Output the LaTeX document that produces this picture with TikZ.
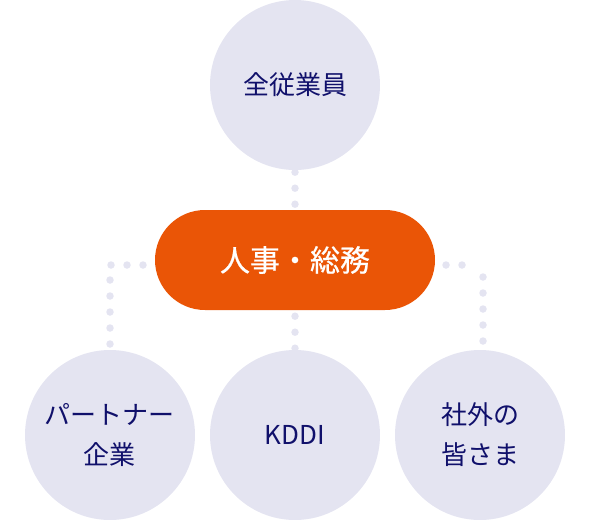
\documentclass[tikz,border=0pt]{standalone}
\usepackage{fontspec}
\setmainfont{Noto Sans CJK JP}
\newfontfamily\pillfont[FakeBold=0.6]{Noto Sans CJK JP}
\usetikzlibrary{shapes.misc,backgrounds}
\definecolor{lav}{HTML}{E4E4F1}
\definecolor{hrorange}{HTML}{EA5506}
\definecolor{navy}{HTML}{10106B}
\tikzset{
  bubble/.style={circle,fill=lav,draw=none,minimum size=170pt,inner sep=0pt,
    text=navy,align=center,font=\fontsize{26}{40}\selectfont},
  pillbox/.style={rounded rectangle,fill=hrorange,draw=none,minimum width=280pt,
    minimum height=100pt,inner sep=0pt,text=white,font=\pillfont\fontsize{30}{36}\selectfont},
  dots/.style={draw=lav,line width=7.5pt,line cap=round,dash pattern=on 0pt off 16pt}
}
\begin{document}
\begin{tikzpicture}[x=1pt,y=-1pt]
\useasboundingbox (0,0) rectangle (590,520);
\node[bubble] (top) at (295,85) {全従業員};
\node[pillbox] (pill) at (295,260) {人事・総務};
\node[bubble] (left) at (110,435) {パートナー\\企業};
\node[bubble] (mid) at (295,435) {KDDI};
\node[bubble] (right) at (480,435) {社外の\\皆さま};
\coordinate (lstart) at (175,265);
\coordinate (rstart) at (414,265);
\coordinate (rh) at (478,265);
\coordinate (rv) at (483,277);
\begin{pgfonlayer}{background}
\draw[dots,dash phase=14pt] (top.south) -- (pill.north);
\draw[dots,dash phase=10pt] (pill.south) -- (mid.north);
\draw[dots] (lstart) -| (left.north);
\draw[dots] (rstart) -- (rh);
\draw[dots] (rv) -- (rv |- right.north);
\end{pgfonlayer}
\end{tikzpicture}
\end{document}
